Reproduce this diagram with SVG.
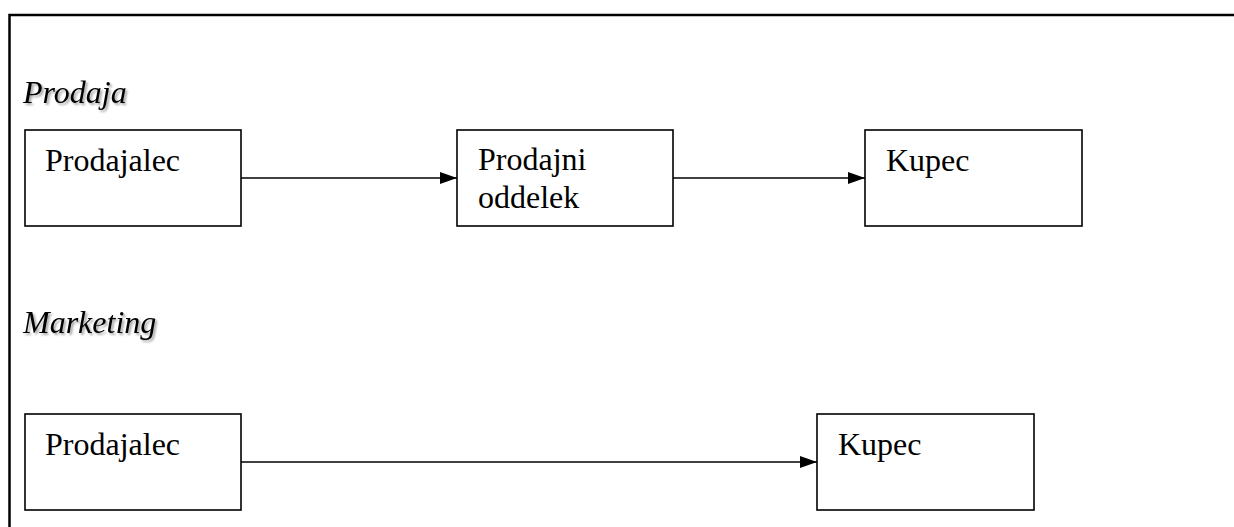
<svg xmlns="http://www.w3.org/2000/svg" width="1234" height="527" viewBox="0 0 1234 527">
  <defs>
    <marker id="arrow" viewBox="0 0 17 12" refX="17" refY="6" markerWidth="17" markerHeight="12" markerUnits="userSpaceOnUse" orient="auto">
      <path d="M0,0 L17,6 L0,12 Z" fill="#000"/>
    </marker>
    <filter id="shadow" x="-5%" y="-20%" width="115%" height="150%">
      <feGaussianBlur in="SourceAlpha" stdDeviation="0.8"/>
      <feOffset dx="2" dy="2" result="off"/>
      <feFlood flood-color="#000" flood-opacity="0.35"/>
      <feComposite in2="off" operator="in"/>
      <feMerge>
        <feMergeNode/>
        <feMergeNode in="SourceGraphic"/>
      </feMerge>
    </filter>
  </defs>
  <style>
    .frame { fill: none; stroke: #000; stroke-width: 2.5; }
    .box { fill: #fff; stroke: #000; stroke-width: 1.6; }
    .label { font-family: "Liberation Serif", "Times New Roman", serif; font-size: 32px; fill: #000; }
    .heading { font-family: "Liberation Serif", "Times New Roman", serif; font-size: 32px; font-style: italic; fill: #000; }
    .conn { fill: none; stroke: #000; stroke-width: 1.6; marker-end: url(#arrow); }
  </style>

  <rect width="1234" height="527" fill="#fff"/>

  <!-- frame: top and left edges only -->
  <path class="frame" d="M9.5,527 L9.5,15 L1234,15"/>

  <!-- section headings -->
  <text class="heading" x="23" y="103" filter="url(#shadow)">Prodaja</text>
  <text class="heading" x="23" y="333" filter="url(#shadow)">Marketing</text>

  <!-- Prodaja row -->
  <g id="prodaja-prodajalec">
    <rect class="box" x="25" y="130" width="216" height="96"/>
    <text class="label" x="45" y="171">Prodajalec</text>
  </g>
  <g id="prodaja-oddelek">
    <rect class="box" x="457" y="130" width="216" height="96"/>
    <text class="label" x="478" y="170">Prodajni</text>
    <text class="label" x="478" y="208">oddelek</text>
  </g>
  <g id="prodaja-kupec">
    <rect class="box" x="865" y="130" width="217" height="96"/>
    <text class="label" x="886" y="171">Kupec</text>
  </g>

  <!-- Marketing row -->
  <g id="marketing-prodajalec">
    <rect class="box" x="25" y="414" width="216" height="96"/>
    <text class="label" x="45" y="455">Prodajalec</text>
  </g>
  <g id="marketing-kupec">
    <rect class="box" x="817" y="414" width="217" height="96"/>
    <text class="label" x="838" y="455">Kupec</text>
  </g>

  <!-- connectors -->
  <g id="connectors">
    <line class="conn" x1="241" y1="178" x2="457" y2="178"/>
    <line class="conn" x1="673" y1="178" x2="865" y2="178"/>
    <line class="conn" x1="241" y1="462" x2="817" y2="462"/>
  </g>
</svg>
